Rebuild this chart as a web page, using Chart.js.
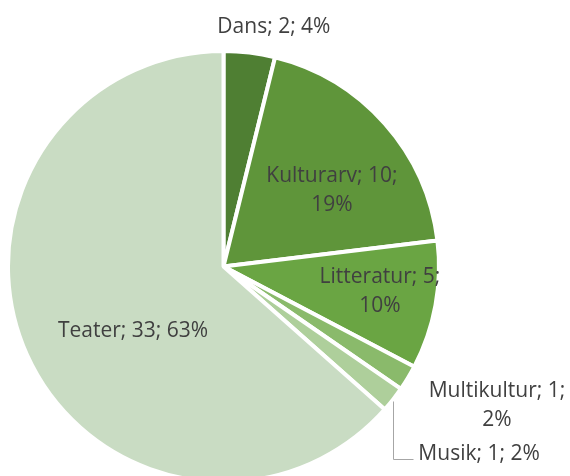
<!DOCTYPE html>
<html>
<head>
<meta charset="utf-8">
<script src="https://cdn.jsdelivr.net/npm/chart.js@4/dist/chart.umd.min.js"></script>
<style>
  html, body { margin: 0; padding: 0; background: #ffffff; overflow: hidden; }
  #wrap { position: relative; width: 570px; height: 480px; }
</style>
</head>
<body>
<div id="wrap"><canvas id="c"></canvas></div>
<script>
// ---- data ----
const categories = ['Dans', 'Kulturarv', 'Litteratur', 'Multikultur', 'Musik', 'Teater'];
const counts = [2, 10, 5, 1, 1, 33];
const colors = ['#4f7f33', '#5f953a', '#6aa543', '#8aba6b', '#aecf9b', '#c9dcc3'];

// ---- label layout (relative to pie centre, in units of the radius) ----
const labelPos = [
  [0.234, -1.116],
  [0.503, -0.357],
  [0.726, 0.111],
  [1.269, 0.640],
  [1.186, 0.865],
  [-0.420, 0.297]
];
const labelWrap = [false, true, true, true, false, false];
const leader = { slice: 4, pts: [[0.787, 0.622], [0.787, 0.891], [0.879, 0.891]] };

const total = counts.reduce((a, b) => a + b, 0);

const labelPlugin = {
  id: 'sliceLabels',
  afterDatasetsDraw(chart) {
    const ctx = chart.ctx;
    const arcs = chart.getDatasetMeta(0).data;
    if (!arcs.length) return;
    const cx = arcs[0].x, cy = arcs[0].y, r = arcs[0].outerRadius;
    ctx.save();
    // leader line
    ctx.strokeStyle = '#a6a6a6';
    ctx.lineWidth = 1;
    ctx.beginPath();
    leader.pts.forEach((p, i) => {
      const x = Math.round(cx + p[0] * r) + 0.5, y = Math.round(cy + p[1] * r) + 0.5;
      if (i === 0) ctx.moveTo(x, y); else ctx.lineTo(x, y);
    });
    ctx.stroke();

    ctx.fillStyle = '#404040';
    ctx.font = '21px "Open Sans", Lato, sans-serif';
    ctx.textAlign = 'center';
    ctx.textBaseline = 'middle';
    const lh = 29.5;
    categories.forEach((name, i) => {
      const pct = Math.round(counts[i] / total * 100) + '%';
      const lines = labelWrap[i]
        ? [name + '; ' + counts[i] + ';', pct]
        : [name + '; ' + counts[i] + '; ' + pct];
      const x = cx + labelPos[i][0] * r;
      const y0 = cy + labelPos[i][1] * r - (lines.length - 1) * lh / 2 + 1;
      lines.forEach((t, k) => ctx.fillText(t, x, y0 + k * lh));
    });
    ctx.restore();
  }
};

new Chart(document.getElementById('c'), {
  type: 'pie',
  data: {
    labels: categories,
    datasets: [{
      data: counts,
      backgroundColor: colors,
      borderColor: '#ffffff',
      borderWidth: 4,
      radius: 215.5
    }]
  },
  options: {
    responsive: true,
    maintainAspectRatio: false,
    animation: false,
    layout: { padding: { left: 10, right: 133, top: 53, bottom: 0 } },
    plugins: {
      legend: { display: false },
      tooltip: { enabled: false }
    }
  },
  plugins: [labelPlugin]
});
</script>
</body>
</html>
